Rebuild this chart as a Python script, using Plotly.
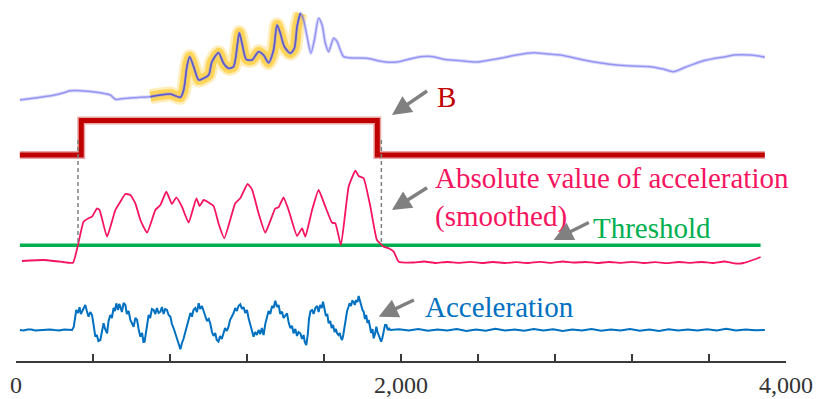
import numpy as np
import plotly.graph_objects as go

# ---------------- data ----------------
# Top signal (arbitrary units) sampled along time
sig_x = [20, 126, 200, 265, 272, 334, 438, 490, 516, 560, 609, 646, 698, 750, 802, 854,
         871, 888, 902, 923, 949, 975, 1001, 1018, 1052, 1078, 1104, 1130, 1151, 1160,
         1174, 1196, 1226, 1260, 1286, 1312, 1338, 1356, 1373, 1394, 1425, 1446, 1460,
         1477, 1494, 1512, 1532, 1550, 1572, 1590, 1607, 1624, 1650, 1668, 1685, 1702,
         1760, 1823, 1910, 1979, 2100, 2169, 2221, 2300, 2395, 2516, 2600, 2689, 2760,
         2827, 2949, 3040, 3122, 3200, 3295, 3360, 3416, 3480, 3555, 3633, 3680, 3728,
         3815, 3860, 3890]
sig_y = [1.0, 1.27, 1.5, 1.83, 1.9, 1.93, 1.73, 1.5, 1.07, 1.15, 1.23, 1.27, 1.33, 1.5,
         1.6, 1.27, 2.0, 4.33, 5.33, 4.33, 3.0, 3.17, 3.5, 4.83, 5.73, 4.67, 4.17, 4.33,
         6.67, 7.73, 6.67, 5.07, 5.0, 5.83, 5.5, 4.73, 6.0, 8.5, 7.67, 6.33, 5.67, 6.17,
         8.33, 9.67, 9.0, 7.33, 5.67, 7.0, 9.17, 8.5, 6.67, 5.83, 7.17, 6.83, 6.0, 5.33,
         5.2, 5.17, 4.83, 4.8, 5.33, 5.33, 5.07, 4.95, 4.8, 5.17, 5.5, 5.73, 5.6, 5.5,
         5.0, 4.7, 4.5, 4.4, 4.33, 4.1, 3.83, 4.3, 4.83, 5.17, 5.3, 5.5, 5.5, 5.4, 5.27]
highlight_range = [690, 1482]

# B state (0 / 1) as a step function
b_x = [20, 339, 1877, 3890]
b_y = [0, 1, 0, 0]

# Smoothed absolute acceleration
abs_x = [31, 143, 230, 296, 320, 351, 377, 395, 421, 434, 473, 516, 542, 568, 594, 620,
         646, 681, 724, 750, 781, 810, 833, 862, 897, 937, 954, 975, 1026, 1052, 1082,
         1139, 1165, 1203, 1226, 1260, 1295, 1347, 1364, 1390, 1416, 1460, 1486, 1503,
         1538, 1572, 1607, 1642, 1659, 1688, 1728, 1763, 1780, 1806, 1841, 1875, 1910,
         1936, 1962, 1988, 2060, 2120, 2180, 2240, 2300, 2360, 2420, 2480, 2540, 2600,
         2660, 2720, 2780, 2840, 2900, 2960, 3020, 3080, 3140, 3200, 3260, 3320, 3380,
         3440, 3500, 3560, 3620, 3680, 3740, 3780, 3820, 3850, 3868]
abs_y = [0.3, 0.4, 0.23, 0.13, 1.73, 4.23, 4.57, 4.73, 5.57, 5.4, 2.73, 5.4, 6.23, 7.0,
         6.9, 6.07, 4.4, 3.13, 5.4, 5.9, 7.23, 6.0, 6.67, 5.73, 4.13, 6.57, 5.8, 6.4, 5.8,
         4.07, 2.57, 6.07, 6.57, 8.0, 7.47, 5.07, 3.13, 5.57, 5.67, 6.67, 5.4, 2.8, 3.57,
         2.73, 5.4, 7.4, 5.73, 4.13, 4.07, 1.9, 7.73, 9.33, 8.8, 8.57, 5.73, 2.4, 1.73,
         1.57, 1.23, 0.23, 0.15, 0.25, 0.1, 0.2, 0.12, 0.22, 0.1, 0.2, 0.1, 0.18, 0.1,
         0.22, 0.12, 0.25, 0.15, 0.2, 0.1, 0.2, 0.12, 0.22, 0.1, 0.18, 0.08, 0.2, 0.12,
         0.2, 0.1, 0.25, 0.05, 0.1, 0.35, 0.55, 0.7]

# Threshold level (same units as the smoothed absolute acceleration)
threshold_x = [20, 3868]
threshold_level = 1.87

# Raw acceleration
acc_x = [20, 40, 60, 80, 100, 125, 150, 175, 200, 225, 250, 270, 291, 300, 313, 322, 330,
         337, 343, 352, 360, 368, 377, 386, 395, 404, 412, 420, 428, 438, 446, 455, 463,
         473, 481, 490, 498, 507, 514, 521, 530, 536, 542, 550, 559, 568, 576, 585, 594,
         603, 611, 620, 629, 637, 646, 655, 662, 668, 675, 682, 689, 697, 706, 715, 724,
         732, 741, 750, 758, 767, 775, 784, 793, 802, 810, 819, 827, 836, 845, 854, 862,
         870, 880, 888, 897, 906, 914, 922, 931, 940, 949, 957, 966, 975, 983, 992, 1001,
         1009, 1018, 1026, 1035, 1043, 1052, 1060, 1069, 1078, 1086, 1095, 1104, 1112,
         1121, 1130, 1139, 1147, 1156, 1165, 1174, 1182, 1191, 1200, 1208, 1217, 1225,
         1234, 1242, 1251, 1260, 1269, 1277, 1286, 1295, 1304, 1312, 1321, 1330, 1338,
         1347, 1356, 1364, 1373, 1382, 1390, 1399, 1408, 1416, 1425, 1434, 1442, 1451,
         1460, 1468, 1477, 1486, 1494, 1500, 1508, 1516, 1522, 1530, 1538, 1546, 1555,
         1564, 1572, 1580, 1588, 1595, 1602, 1610, 1617, 1624, 1632, 1640, 1647, 1655,
         1662, 1668, 1675, 1682, 1688, 1694, 1700, 1707, 1714, 1720, 1727, 1733, 1740,
         1747, 1754, 1760, 1767, 1774, 1780, 1787, 1793, 1800, 1806, 1813, 1819, 1826,
         1832, 1839, 1845, 1852, 1858, 1865, 1872, 1878, 1883, 1890, 1897, 1903, 1910,
         1917, 1924, 1931, 1938, 1945, 1990, 2040, 2090, 2140, 2190, 2240, 2290, 2340,
         2390, 2440, 2490, 2540, 2590, 2640, 2690, 2740, 2790, 2840, 2890, 2940, 2990,
         3040, 3090, 3140, 3190, 3240, 3290, 3340, 3390, 3440, 3490, 3540, 3590, 3640,
         3690, 3740, 3790, 3840, 3890]
acc_y = [0.0, -0.05, 0.05, 0.05, -0.05, -0.03, 0.05, 0.06, 0.0, -0.04, 0.05, 0.02, 0.0,
         0.3, 2.0, 1.7, 2.27, 1.6, 1.83, 2.1, 2.5, 1.9, 1.33, 1.8, 1.5, 0.4, -0.67, -0.5,
         -1.1, -1.0, -0.2, 0.67, 0.1, -0.33, 0.9, 1.5, 1.2, 2.2, 1.9, 2.67, 2.0, 2.6, 2.33,
         1.8, 2.7, 2.5, 1.6, 1.9, 1.0, 0.7, 0.33, 1.2, 1.0, 0.1, -0.67, -0.3, -1.2, -1.17,
         -0.2, 0.6, 1.5, 1.2, 2.1, 2.0, 1.6, 2.2, 1.7, 1.83, 2.3, 1.6, 2.1, 2.0, 1.5, 1.33,
         0.6, 0.17, -0.3, -0.67, -1.2, -1.93, -1.3, -0.9, -0.17, 0.4, 0.9, 1.7, 1.33, 2.0,
         2.2, 1.8, 2.67, 2.1, 2.4, 1.83, 1.5, 0.9, 1.1, 0.67, -0.2, -0.6, -0.3, -1.0,
         -1.17, -0.6, -0.9, -0.33, 0.2, -0.1, 0.33, 1.0, 1.3, 1.67, 2.2, 1.9, 2.4, 2.57,
         2.1, 2.3, 1.7, 2.0, 1.2, 0.6, 0.1, -0.67, -0.2, -0.5, 0.0, -0.4, 0.2, -0.5, 0.6,
         1.33, 1.9, 1.6, 2.4, 2.2, 2.93, 2.3, 2.5, 1.6, 1.83, 1.2, 1.5, 1.67, 0.8, 0.2,
         0.4, -0.33, 0.1, -0.6, -0.2, -0.33, -0.9, -0.5, -1.2, -1.5, -0.4, 1.1, 1.9, 2.0,
         1.6, 2.2, 2.4, 1.8, 2.5, 2.2, 2.83, 2.1, 1.4, 1.6, 0.67, 0.9, 0.2, 0.5, -0.2, 0.1,
         -0.33, -0.5, -0.3, -0.8, -1.0, -0.5, 0.4, 1.3, 1.9, 2.3, 2.67, 2.4, 2.9, 2.83,
         2.5, 3.0, 2.8, 3.4, 2.9, 2.4, 2.0, 1.83, 1.1, 1.5, 0.7, 1.0, 0.2, -0.3, 0.1,
         -0.83, -0.4, 0.33, -0.2, -0.5, -0.9, -1.17, -0.8, 0.1, 0.5, 0.5, 0.0, 0.15, 0.0,
         0.08, -0.05, 0.1, -0.08, 0.05, -0.06, 0.1, -0.1, 0.04, -0.07, 0.12, -0.05, 0.06,
         -0.08, 0.1, -0.04, 0.07, -0.1, 0.05, -0.06, 0.1, -0.07, 0.06, -0.05, 0.09, -0.08,
         0.05, -0.1, 0.08, -0.05, 0.06, -0.06, 0.08, -0.05, 0.12, -0.04, 0.05, -0.02, 0.0]

# Event boundaries (where the smoothed signal crosses the threshold)
event_x = [322, 1898]

# X axis ticks
x_ticks = [0, 400, 800, 1200, 1600, 2000, 2400, 2800, 3200, 3600, 4000]
x_ticktext = ["0", "", "", "", "", "2,000", "", "", "", "", "4,000"]

# ---------------- layout geometry ----------------
W, H = 825, 399
ML, MR, MT, MB = 16, 39, 0, 38
PLOT_H = H - MT - MB

FONT = "Liberation Serif, Times New Roman, serif"
BLUE = "#0070c0"
PINK = "#f5145f"
RED = "#c00000"
GREEN = "#00b050"
GRAY = "#808080"


def band_range(base_px, px_per_unit):
    """Axis range placing value 0 at base_px (from plot top) with a given pixel scale."""
    return [-(PLOT_H - base_px) / px_per_unit, base_px / px_per_unit]


def paper_y(px):
    return (PLOT_H - px) / PLOT_H


sig_x_arr = np.array(sig_x)
sig_y_arr = np.array(sig_y)
hl = (sig_x_arr >= highlight_range[0]) & (sig_x_arr <= highlight_range[1])

fig = go.Figure()

# highlighted part of the top signal (soft yellow glow)
fig.add_trace(go.Scatter(x=sig_x_arr[hl], y=sig_y_arr[hl], yaxis="y4", mode="lines",
                         line=dict(color="rgba(255,205,60,0.35)", width=15, shape="spline", smoothing=0.7),
                         hoverinfo="skip"))
fig.add_trace(go.Scatter(x=sig_x_arr[hl], y=sig_y_arr[hl], yaxis="y4", mode="lines",
                         line=dict(color="rgba(255,208,70,0.85)", width=10, shape="spline", smoothing=0.7),
                         hoverinfo="skip"))
# top signal
fig.add_trace(go.Scatter(x=sig_x, y=sig_y, yaxis="y4", mode="lines",
                         line=dict(color="rgba(130,130,245,0.3)", width=3.5, shape="spline", smoothing=0.7),
                         hoverinfo="skip"))
fig.add_trace(go.Scatter(x=sig_x, y=sig_y, yaxis="y4", mode="lines",
                         line=dict(color="rgba(120,120,240,0.7)", width=1.5, shape="spline", smoothing=0.7),
                         hoverinfo="skip"))
fig.add_trace(go.Scatter(x=sig_x_arr[hl], y=sig_y_arr[hl], yaxis="y4", mode="lines",
                         line=dict(color="#5a5ad0", width=1.6, shape="spline", smoothing=0.7),
                         hoverinfo="skip"))

# B step
fig.add_trace(go.Scatter(x=b_x, y=b_y, yaxis="y3", mode="lines",
                         line=dict(color="rgba(192,0,0,0.35)", width=8, shape="hv"), hoverinfo="skip"))
fig.add_trace(go.Scatter(x=b_x, y=b_y, yaxis="y3", mode="lines",
                         line=dict(color=RED, width=5, shape="hv"), hoverinfo="skip"))

# threshold and smoothed absolute acceleration
fig.add_trace(go.Scatter(x=threshold_x, y=[threshold_level] * len(threshold_x), yaxis="y2",
                         mode="lines", line=dict(color=GREEN, width=3.5), hoverinfo="skip"))
fig.add_trace(go.Scatter(x=abs_x, y=abs_y, yaxis="y2", mode="lines",
                         line=dict(color=PINK, width=1.8, shape="spline", smoothing=0.4),
                         hoverinfo="skip"))

# raw acceleration
fig.add_trace(go.Scatter(x=acc_x, y=acc_y, yaxis="y", mode="lines",
                         line=dict(color=BLUE, width=2), hoverinfo="skip"))

# dashed event boundaries
for ex in event_x:
    fig.add_shape(type="line", xref="x", yref="paper", x0=ex, x1=ex,
                  y0=paper_y(140), y1=paper_y(245),
                  line=dict(color=GRAY, width=1.5, dash="4px,3px"))

# labels
labels = [
    ("B", RED, 2178, 96.5),
    ("Absolute value of acceleration<br>(smoothed)", PINK, 2165, 197.2),
    ("Threshold", GREEN, 2985, 228.3),
    ("Acceleration", BLUE, 2112, 306.7),
]
for text, color, lx, ly in labels:
    fig.add_annotation(x=lx, y=paper_y(ly), xref="x", yref="paper", text=text,
                       showarrow=False, xanchor="left", yanchor="middle", align="left",
                       font=dict(family=FONT, size=29, color=color))

# pointer arrows: head (x data, y px) and tail offset in px
arrows = [
    (1953, 115, 36.6, -25),
    (1953, 210, 36.6, -23.3),
    (2793, 240, 36.7, -18.3),
    (1884, 316.7, 36.7, -17.4),
]
for hx, hy, ax, ay in arrows:
    fig.add_annotation(x=hx, y=paper_y(hy), xref="x", yref="paper", text=" ",
                       showarrow=True, ax=ax, ay=ay, arrowhead=2, arrowsize=1.1,
                       arrowwidth=3.5, arrowcolor=GRAY, standoff=0,
                       font=dict(size=1))

fig.update_layout(
    width=W, height=H,
    margin=dict(l=ML, r=MR, t=MT, b=MB),
    paper_bgcolor="white", plot_bgcolor="white",
    showlegend=False,
    xaxis=dict(range=[0, 4000], showgrid=False, zeroline=False, showline=True,
               linecolor="#3a3a3a", linewidth=1.5, ticks="inside", ticklen=7, tickwidth=1.5,
               tickcolor="#3a3a3a", tickvals=x_ticks, ticktext=x_ticktext,
               tickfont=dict(family=FONT, size=24, color="#333333"),
               ticklabelstandoff=1, automargin=False),
    yaxis=dict(range=band_range(330, 10), visible=False, fixedrange=True),
    yaxis2=dict(range=band_range(264, 10), visible=False, overlaying="y"),
    yaxis3=dict(range=band_range(155, 34.5), visible=False, overlaying="y"),
    yaxis4=dict(range=band_range(110, 10), visible=False, overlaying="y"),
)

fig.write_html("out.html")
